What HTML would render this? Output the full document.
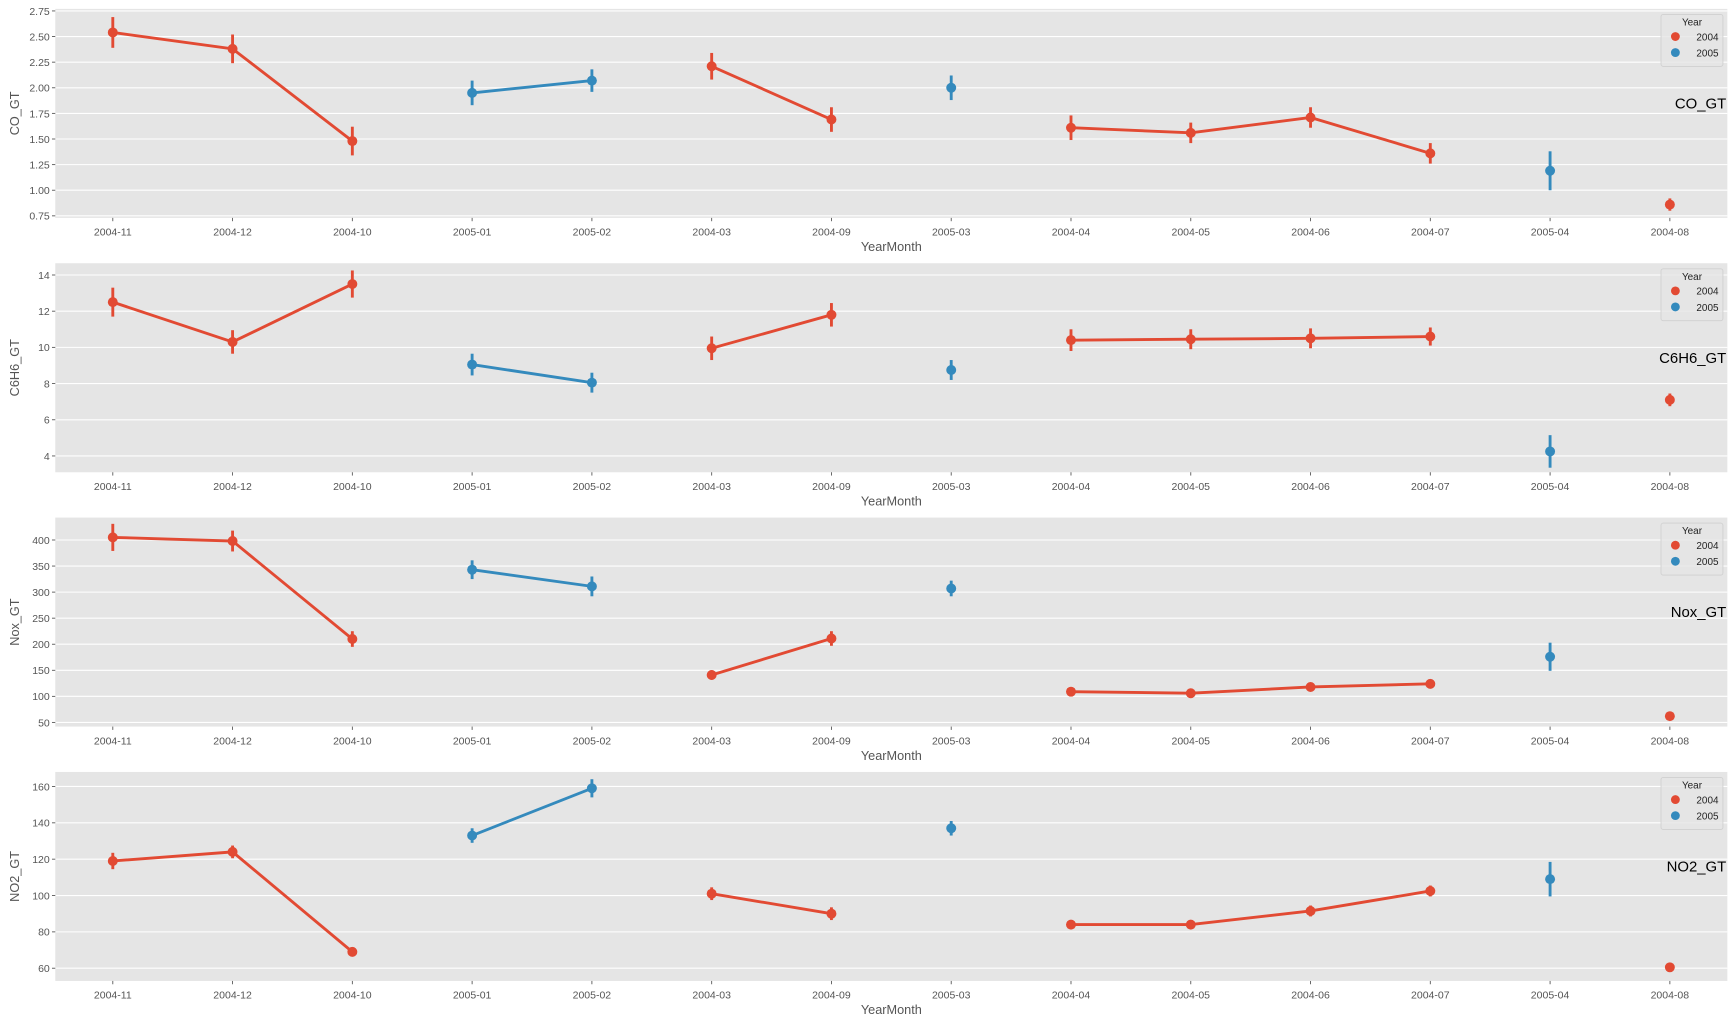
<!DOCTYPE html>
<html><head><meta charset="utf-8"><style>
html,body{margin:0;padding:0;background:#fff;}
svg{display:block;font-family:"Liberation Sans","DejaVu Sans",sans-serif;}
</style></head><body>
<svg id="fig" width="1734" height="1023" viewBox="0 0 1568 925" xmlns="http://www.w3.org/2000/svg"></svg>
<script>
const categories = ["2004-11","2004-12","2004-10","2005-01","2005-02","2004-03","2004-09","2005-03","2004-04","2004-05","2004-06","2004-07","2005-04","2004-08"];
const metricNames = ["CO_GT","C6H6_GT","Nox_GT","NO2_GT"];
const co2004 = [2.54,2.38,1.48,null,null,2.21,1.69,null,1.61,1.56,1.71,1.36,null,0.86];
const co2005 = [null,null,null,1.95,2.07,null,null,2.0,null,null,null,null,1.19,null];
const coErr2004 = [0.15,0.14,0.14,0,0,0.13,0.12,0,0.12,0.1,0.1,0.1,0,0.06];
const coErr2005 = [0,0,0,0.12,0.11,0,0,0.12,0,0,0,0,0.19,0];
const c6h62004 = [12.5,10.3,13.5,null,null,9.95,11.8,null,10.4,10.45,10.5,10.6,null,7.1];
const c6h62005 = [null,null,null,9.05,8.05,null,null,8.75,null,null,null,null,4.25,null];
const c6h6Err2004 = [0.8,0.65,0.75,0,0,0.65,0.65,0,0.6,0.55,0.55,0.5,0,0.35];
const c6h6Err2005 = [0,0,0,0.6,0.55,0,0,0.55,0,0,0,0,0.9,0];
const nox2004 = [405,398,210,null,null,141,211,null,109,106,118,124,null,62];
const nox2005 = [null,null,null,343,311,null,null,307,null,null,null,null,176,null];
const noxErr2004 = [26,20,15,0,0,9,14,0,5,5,5,5,0,4];
const noxErr2005 = [0,0,0,18,19,0,0,15,0,0,0,0,27,0];
const no22004 = [119,124,69,null,null,101,90,null,84,84,91.5,102.5,null,60.5];
const no22005 = [null,null,null,133,159,null,null,137,null,null,null,null,109,null];
const no2Err2004 = [4.5,3.5,2.5,0,0,3.5,3.5,0,2.5,2.5,3,3,0,2];
const no2Err2005 = [0,0,0,4,5,0,0,4,0,0,0,0,9.5,0];
const coTicks = ["0.75","1.00","1.25","1.50","1.75","2.00","2.25","2.50","2.75"];
const c6h6Ticks = ["4","6","8","10","12","14"];
const noxTicks = ["50","100","150","200","250","300","350","400"];
const no2Ticks = ["60","80","100","120","140","160"];

const panels = [
 {name:"CO_GT", s04:co2004, s05:co2005, e04:coErr2004, e05:coErr2005, ticks:coTicks, ymin:0.73, ymax:2.77, top:8},
 {name:"C6H6_GT", s04:c6h62004, s05:c6h62005, e04:c6h6Err2004, e05:c6h6Err2005, ticks:c6h6Ticks, ymin:3.1, ymax:14.65, top:238},
 {name:"Nox_GT", s04:nox2004, s05:nox2005, e04:noxErr2004, e05:noxErr2005, ticks:noxTicks, ymin:42, ymax:443, top:468},
 {name:"NO2_GT", s04:no22004, s05:no22005, e04:no2Err2004, e05:no2Err2005, ticks:no2Ticks, ymin:53, ymax:168, top:698}
];
const NS="http://www.w3.org/2000/svg";
const svg=document.getElementById("fig");
function mk(tag,attrs,parent,text){const e=document.createElementNS(NS,tag);for(const k in attrs)e.setAttribute(k,attrs[k]);if(text!==undefined)e.textContent=text;parent.appendChild(e);return e;}
const L=50,R=1562,H=189;
const xPos=i=>L+52+i*((R-L-104)/(categories.length-1));
const C04="#E24A33",C05="#348ABD";
panels.forEach((p,pi)=>{
  const g=mk("g",{},svg);
  
  
  const T=p.top,B=T+H;
  const y=v=>B-(v-p.ymin)/(p.ymax-p.ymin)*H;
  const bg=mk("rect",{x:L,y:T,width:R-L,height:H,fill:"#E5E5E5"},g);
  
  
  p.ticks.forEach(t=>{
    const yy=y(parseFloat(t));
    mk("line",{x1:L,x2:R,y1:yy,y2:yy,stroke:"#fff","stroke-width":1},g);
    mk("line",{x1:L-3,x2:L,y1:yy,y2:yy,stroke:"#555","stroke-width":0.8},g);
    const tl=mk("text",{x:L-5,y:yy+3.5,"font-size":9.5,fill:"#555","text-anchor":"end"},g,t);
    
    
  });
  categories.forEach((c,i)=>{
    const xx=xPos(i);
    mk("line",{x1:xx,x2:xx,y1:B,y2:B+3,stroke:"#555","stroke-width":0.8},g);
    const tl=mk("text",{x:xx,y:B+16,"font-size":9.5,fill:"#555","text-anchor":"middle"},g,c);
    
    
  });
  const xl=mk("text",{x:(L+R)/2,y:B+30,"font-size":11.5,fill:"#555","text-anchor":"middle"},g,"YearMonth");
  
  
  const yl=mk("text",{x:0,y:0,"font-size":11.5,fill:"#555","text-anchor":"middle",transform:`translate(17,${T+H/2}) rotate(-90)`},g,p.name);
  
  
  [[p.s04,p.e04,C04,"2004"],[p.s05,p.e05,C05,"2005"]].forEach(([s,e,col,yr])=>{
    let seg=[];
    const segs=[];
    s.forEach((v,i)=>{if(v===null){if(seg.length)segs.push(seg);seg=[];}else seg.push([xPos(i),y(v)]);});
    if(seg.length)segs.push(seg);
    segs.forEach(sg=>{if(sg.length>1){
      const pl=mk("polyline",{points:sg.map(q=>q.join(",")).join(" "),fill:"none",stroke:col,"stroke-width":2.6},g);
      
      
    }});
    s.forEach((v,i)=>{
      if(v===null)return;
      const xx=xPos(i);
      const el=mk("line",{x1:xx,x2:xx,y1:y(v-e[i]),y2:y(v+e[i]),stroke:col,"stroke-width":2.6},g);
      
      
      const pt=mk("circle",{cx:xx,cy:y(v),r:4.5,fill:col},g);
      
      
    });
  });
  const lg=mk("g",{},g);
  
  
  mk("rect",{x:1502,y:T+5,width:56,height:47,rx:2,fill:"#E5E5E5",stroke:"#d0d0d0","stroke-width":0.8,"fill-opacity":0.8},lg);
  mk("text",{x:1530,y:T+15,"font-size":9,fill:"#222","text-anchor":"middle"},lg,"Year");
  [["2004",C04],["2005",C05]].forEach(([lbl,col],k)=>{
    const le=mk("g",{},lg);
    
    
    mk("circle",{cx:1515,cy:T+25+k*14.5,r:4,fill:col},le);
    mk("text",{x:1554,y:T+28.5+k*14.5,"font-size":9,fill:"#222","text-anchor":"end"},le,lbl);
  });
  const ti=mk("text",{x:1561,y:T+90,"font-size":13.5,fill:"#000","text-anchor":"end"},g,p.name);
  
  
});
</script>
</body></html>
